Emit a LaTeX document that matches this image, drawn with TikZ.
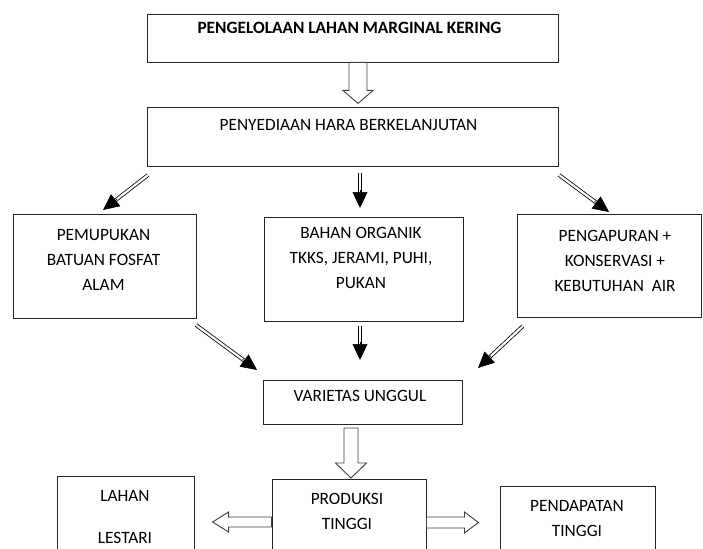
\documentclass[tikz,border=0pt]{standalone}
\usepackage{fontspec}
\setmainfont{Carlito}
\usetikzlibrary{arrows.meta,calc}
\tikzset{
  box/.style={draw=black!85, line width=0.9pt, rectangle, inner sep=0pt},
  lbl/.style={anchor=base, inner sep=0pt, font=\fontsize{17.3}{25}\selectfont},
  mlbl/.style={anchor=north, inner sep=0pt, align=center, font=\fontsize{17.3}{25}\selectfont},
  dblshaft/.style={draw=black, double=white, line width=0.8pt, double distance=2.2pt},
  tiponly/.style={draw=black, line width=0.6pt, -{Triangle[length=16pt,width=15pt]}},
  hollow/.style={draw=black!75, line width=0.9pt, fill=white, line join=miter}
}
\newcommand{\dblarrow}[2]{%
  \draw[dblshaft, shorten >=12pt] (#1) -- (#2);
  \draw[tiponly] ($(#2)!18pt!(#1)$) -- (#2);
}
\begin{document}
\begin{tikzpicture}[x=1pt,y=-1pt]
\useasboundingbox (0,0) rectangle (703,548);
\clip (0,0) rectangle (703,548);
\fill[white] (0,0) rectangle (703,548);

% boxes
\node[box, minimum width=411pt, minimum height=48pt] (b1) at (352.5,38) {};
\node[box, minimum width=411pt, minimum height=59pt] (b2) at (352.5,136.5) {};
\node[box, minimum width=183pt, minimum height=104pt] (b3) at (104.5,266) {};
\node[box, minimum width=199pt, minimum height=104pt] (b4) at (363.5,269) {};
\node[box, minimum width=184pt, minimum height=103pt] (b5) at (609,265.5) {};
\node[box, minimum width=199pt, minimum height=44pt] (b6) at (362.5,402) {};
\node[box, minimum width=154pt, minimum height=91pt] (b7) at (349,524.5) {};
\node[box, minimum width=137pt, minimum height=94pt] (b8) at (125.5,523) {};
\node[box, minimum width=155pt, minimum height=84pt] (b9) at (577.5,528) {};

% texts
\node[lbl, font=\fontsize{17.3}{25}\selectfont\bfseries] (t1) at (349.5,33.5) {PENGELOLAAN LAHAN MARGINAL KERING};
\node[lbl] (t2) at (348.5,130.5) {PENYEDIAAN HARA BERKELANJUTAN};
\node[mlbl] (t3) at (103.5,229.5) {PEMUPUKAN\\BATUAN FOSFAT\\ALAM};
\node[mlbl] (t4) at (361,227.5) {BAHAN ORGANIK\\TKKS, JERAMI, PUHI,\\PUKAN};
\node[mlbl] (t5) at (615,230.5) {PENGAPURAN +\\KONSERVASI +\\KEBUTUHAN\ \ AIR};
\node[lbl] (t6) at (360,401.5) {VARIETAS UNGGUL};
\node[mlbl] (t7) at (347,493.5) {PRODUKSI\\TINGGI};
\node[mlbl, font=\fontsize{17.3}{42}\selectfont] (t8) at (125,490.5) {LAHAN\\LESTARI};
\node[mlbl] (t9) at (577,500.5) {PENDAPATAN\\TINGGI};

% double-line arrows
\coordinate (a1s) at (148,175); \coordinate (a1e) at (103,210);
\coordinate (a2s) at (360,173); \coordinate (a2e) at (360,208);
\coordinate (a3s) at (559,175); \coordinate (a3e) at (609,212);
\coordinate (a4s) at (196,325); \coordinate (a4e) at (257,370);
\coordinate (a5s) at (360,326); \coordinate (a5e) at (360,360);
\coordinate (a6s) at (523,326); \coordinate (a6e) at (478,368);
\dblarrow{a1s}{a1e}
\dblarrow{a2s}{a2e}
\dblarrow{a3s}{a3e}
\dblarrow{a4s}{a4e}
\dblarrow{a5s}{a5e}
\dblarrow{a6s}{a6e}

% hollow arrows
\coordinate (h1) at (b1.south -| 358,0);
\draw[hollow] (h1) ++(-9,0) -- ++(0,28) -- ++(-6,0) -- ++(15,13) -- ++(15,-13) -- ++(-6,0) -- ++(0,-28) -- cycle;
\coordinate (h2) at (351,428);
\draw[hollow] (h2) ++(-7,0) -- ++(0,35) -- ++(-8.5,0) -- ++(15.5,15) -- ++(15.5,-15) -- ++(-8.5,0) -- ++(0,-35) -- cycle;
\coordinate (h3) at (b7.west |- 0,522);
\draw[hollow] (h3) ++(0,-5) -- ++(-43,0) -- ++(0,-5) -- ++(-16,10) -- ++(16,10) -- ++(0,-5) -- ++(43,0) -- cycle;
\coordinate (h4) at (b7.east |- 0,522.5);
\draw[hollow] (h4) ++(0,-5.5) -- ++(38,0) -- ++(0,-5) -- ++(14,10.5) -- ++(-14,10.5) -- ++(0,-5) -- ++(-38,0) -- cycle;
\end{tikzpicture}
\end{document}
